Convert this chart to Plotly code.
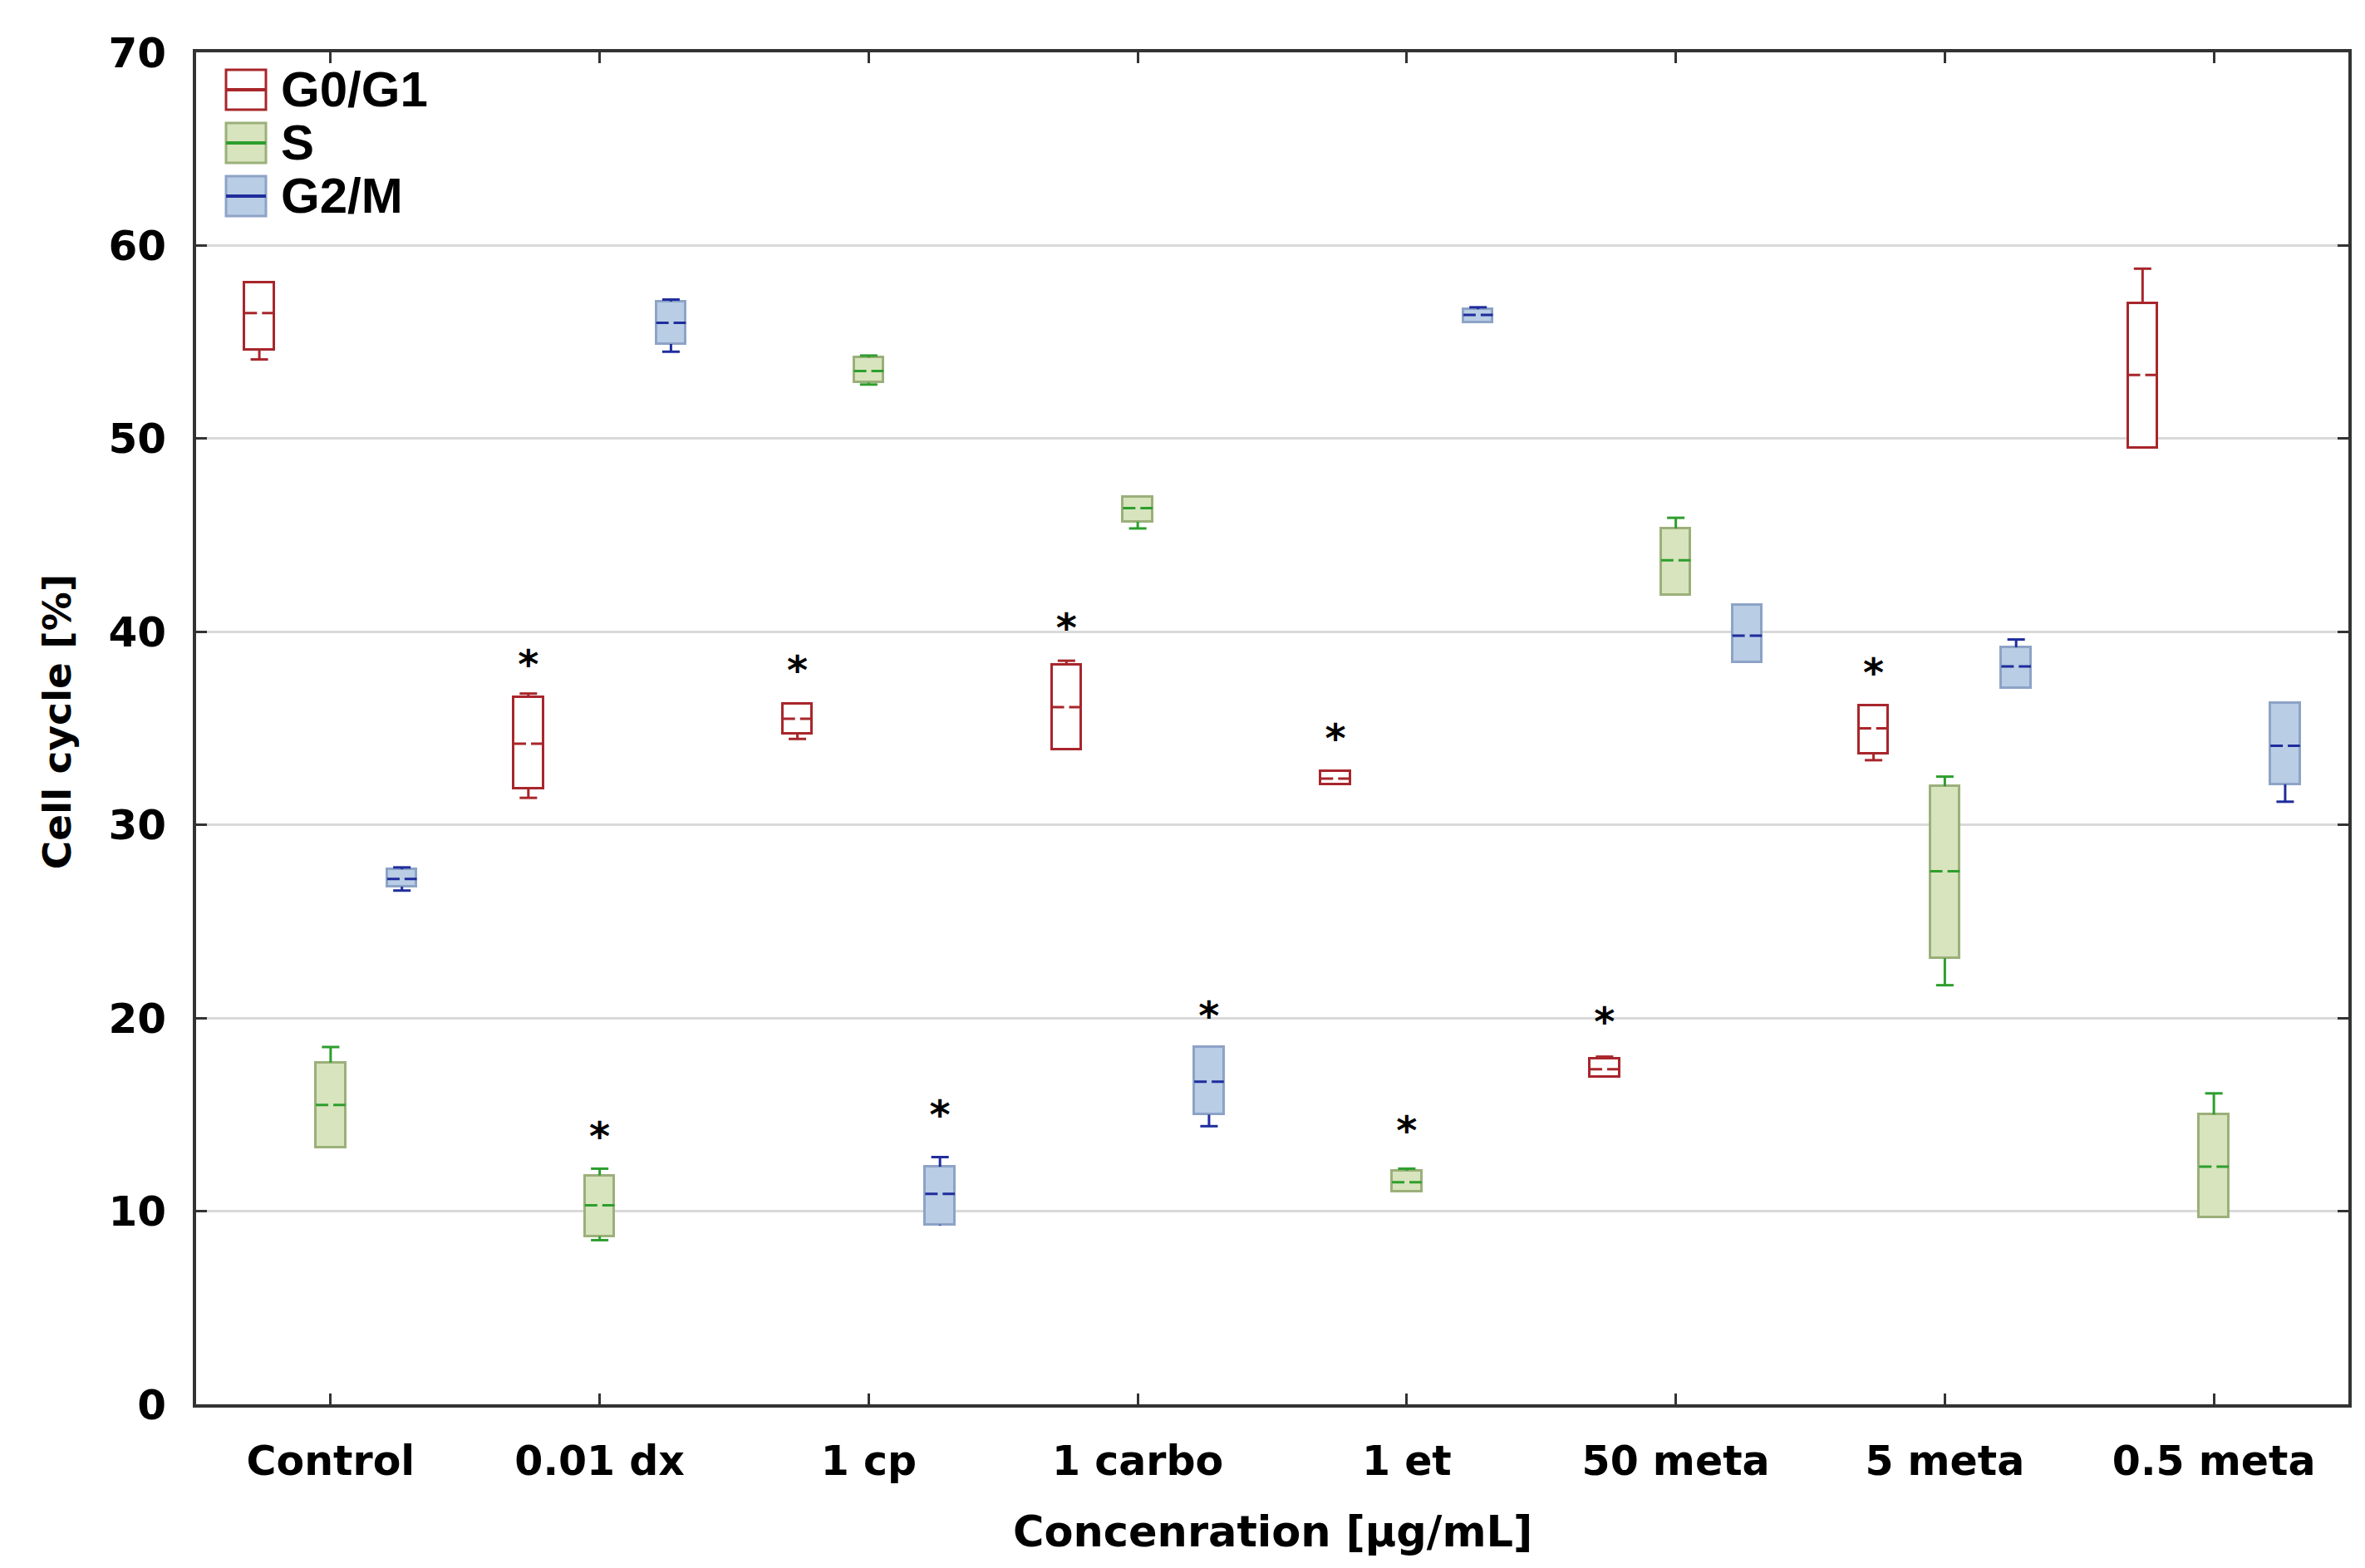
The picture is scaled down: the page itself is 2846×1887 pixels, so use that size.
import plotly.graph_objects as go

categories = ["Control", "0.01 dx", "1 cp", "1 carbo", "1 et", "50 meta", "5 meta", "0.5 meta"]
phases = ["G0/G1", "S", "G2/M"]

# whisker low, q1, median, q3, whisker high  (Cell cycle %)
g0_low = [54.1, 31.4, 34.45, 33.9, 32.1, 16.95, 33.35, 49.5]
g0_q1 = [54.6, 31.9, 34.7, 33.9, 32.1, 16.95, 33.7, 49.5]
g0_med = [56.5, 34.2, 35.5, 36.1, 32.4, 17.35, 35.0, 53.3]
g0_q3 = [58.1, 36.6, 36.25, 38.3, 32.8, 17.9, 36.2, 57.0]
g0_high = [58.1, 36.8, 36.25, 38.5, 32.8, 18.0, 36.2, 58.8]

s_low = [13.3, 8.5, 52.8, 45.35, 11.0, 41.9, 21.7, 9.7]
s_q1 = [13.3, 8.7, 52.9, 45.7, 11.0, 41.9, 23.1, 9.7]
s_med = [15.5, 10.3, 53.5, 46.4, 11.5, 43.7, 27.6, 12.3]
s_q3 = [17.7, 11.85, 54.2, 47.0, 12.1, 45.35, 32.0, 15.0]
s_high = [18.5, 12.2, 54.3, 47.0, 12.2, 45.9, 32.5, 16.1]

g2_low = [26.6, 54.5, 9.26, 14.4, 56.0, 38.4, 37.1, 31.2]
g2_q1 = [26.8, 54.9, 9.3, 15.0, 56.0, 38.4, 37.1, 32.1]
g2_med = [27.2, 56.0, 10.9, 16.7, 56.4, 39.8, 38.2, 34.1]
g2_q3 = [27.7, 57.1, 12.3, 18.5, 56.7, 41.4, 39.2, 36.3]
g2_high = [27.8, 57.2, 12.8, 18.5, 56.8, 41.4, 39.6, 36.3]

# significance markers: (category, phase, y position of the asterisk)
star_cats = ["0.01 dx", "1 cp", "1 carbo", "1 et", "50 meta", "5 meta", "0.01 dx", "1 et", "1 cp", "1 carbo"]
star_phases = ["G0/G1", "G0/G1", "G0/G1", "G0/G1", "G0/G1", "G0/G1", "S", "S", "G2/M", "G2/M"]
star_y = [38.1, 37.8, 40.0, 34.3, 19.6, 37.7, 13.7, 14.0, 14.8, 19.9]

y_ticks = [0, 10, 20, 30, 40, 50, 60, 70]

# ---- styles ----
offsets = {"G0/G1": -0.265, "S": 0.0, "G2/M": 0.265}
fills = {"G0/G1": "#FFFFFF", "S": "#D7E4BD", "G2/M": "#B9CDE5"}
outlines = {"G0/G1": "#A8262B", "S": "#9BB07A", "G2/M": "#8DA3C7"}
medcols = {"G0/G1": "#A8262B", "S": "#2E9E2E", "G2/M": "#1F2D9C"}
data = {
    "G0/G1": (g0_low, g0_q1, g0_med, g0_q3, g0_high),
    "S": (s_low, s_q1, s_med, s_q3, s_high),
    "G2/M": (g2_low, g2_q1, g2_med, g2_q3, g2_high),
}
BW = 0.11
CAP = 0.065

fig = go.Figure()
for ph in phases:
    lo, q1, med, q3, hi = data[ph]
    xs = [i + offsets[ph] for i in range(len(categories))]
    # whiskers
    wx, wy = [], []
    for x, a, b, c, d in zip(xs, lo, q1, q3, hi):
        wx += [x, x, None, x, x, None]
        wy += [a, b, None, c, d, None]
    fig.add_trace(go.Scatter(x=wx, y=wy, mode="lines", line=dict(color=medcols[ph], width=3),
                             showlegend=False, hoverinfo="skip"))
    # caps
    cx, cy = [], []
    for x, a, b, c, d in zip(xs, lo, q1, q3, hi):
        if b - a > 0.05:
            cx += [x - CAP / 2, x + CAP / 2, None]
            cy += [a, a, None]
        if d - c > 0.05:
            cx += [x - CAP / 2, x + CAP / 2, None]
            cy += [d, d, None]
    fig.add_trace(go.Scatter(x=cx, y=cy, mode="lines", line=dict(color=medcols[ph], width=3),
                             showlegend=False, hoverinfo="skip"))
    # box bodies
    fig.add_trace(go.Bar(x=xs, base=q1, y=[c - b for b, c in zip(q1, q3)], width=BW,
                         marker=dict(color=fills[ph], line=dict(color=outlines[ph], width=3)),
                         name=ph, showlegend=False))
    # medians
    mx, my = [], []
    for x, m in zip(xs, med):
        mx += [x - BW / 2, x + BW / 2, None]
        my += [m, m, None]
    fig.add_trace(go.Scatter(x=mx, y=my, mode="lines",
                             line=dict(color=medcols[ph], width=3, dash="15px,6px"),
                             showlegend=False, hoverinfo="skip"))

# asterisks
fig.add_trace(go.Scatter(
    x=[categories.index(c) + offsets[p] for c, p in zip(star_cats, star_phases)],
    y=star_y, mode="text", text=["*"] * len(star_y),
    textfont=dict(family="DejaVu Sans", size=48, color="black", weight="bold"),
    textposition="middle center", showlegend=False, hoverinfo="skip"))

# custom legend
L, R, T, B = 228, 2818, 55, 1682
def px(xp):
    return (xp - L) / (R - L)
def py(yp):
    return (B - yp) / (B - T)

rows = [100, 164, 228]
for ph, rc in zip(phases, rows):
    fig.add_shape(type="rect", xref="paper", yref="paper",
                  x0=px(264), x1=px(312), y0=py(rc + 24), y1=py(rc - 24),
                  fillcolor=fills[ph], line=dict(color=outlines[ph], width=3), layer="above")
    fig.add_shape(type="line", xref="paper", yref="paper",
                  x0=px(264), x1=px(312), y0=py(rc), y1=py(rc),
                  line=dict(color=medcols[ph], width=4), layer="above")
    fig.add_annotation(xref="paper", yref="paper", x=px(328), y=py(rc), text=ph,
                       showarrow=False, xanchor="left", yanchor="middle",
                       font=dict(family="Liberation Sans", size=60, color="black", weight="bold"))

# axis titles
fig.add_annotation(xref="paper", yref="paper", x=0.5, y=py(1836), text="Concenration [µg/mL]",
                   showarrow=False, xanchor="center", yanchor="middle",
                   font=dict(family="DejaVu Sans", size=51, color="black", weight="bold"))
fig.add_annotation(xref="paper", yref="paper", x=px(60), y=0.505, text="Cell cycle [%]",
                   showarrow=False, textangle=-90, xanchor="center", yanchor="middle",
                   font=dict(family="DejaVu Sans", size=47, color="black", weight="bold"))

fig.update_layout(
    width=2846, height=1887,
    margin=dict(l=L, r=2846 - R, t=T, b=1887 - B),
    paper_bgcolor="white", plot_bgcolor="white",
    barmode="overlay", bargap=0,
    showlegend=False,
)
fig.update_xaxes(range=[-0.5, 7.5], tickvals=list(range(len(categories))), ticktext=categories,
                 showgrid=False, zeroline=False, showline=True, linecolor="#333333", linewidth=4,
                 mirror="ticks", ticks="inside", ticklen=13, tickwidth=3, tickcolor="#333333",
                 ticklabelstandoff=22,
                 tickfont=dict(family="DejaVu Sans", size=49, color="black", weight="bold"))
fig.update_yaxes(range=[0, 70], tickvals=y_ticks, showgrid=True, gridcolor="#D9D9D9", gridwidth=3,
                 zeroline=False, showline=True, linecolor="#333333", linewidth=4,
                 mirror="ticks", ticks="inside", ticklen=13, tickwidth=3, tickcolor="#333333",
                 ticklabelstandoff=22,
                 tickfont=dict(family="DejaVu Sans", size=50, color="black", weight="bold"))

fig.write_html("out.html")
